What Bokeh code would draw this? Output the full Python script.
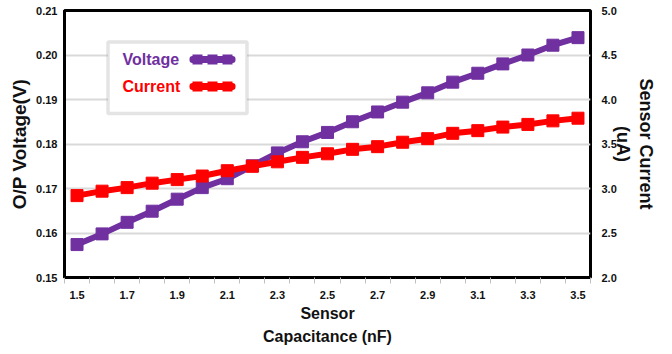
from bokeh.plotting import figure
from bokeh.models import (Range1d, LinearAxis, FixedTicker, BoxAnnotation, Label,
                          PrintfTickFormatter)
from bokeh.embed import file_html
from bokeh.resources import INLINE

capacitance = [1.5, 1.6, 1.7, 1.8, 1.9, 2.0, 2.1, 2.2, 2.3, 2.4, 2.5,
               2.6, 2.7, 2.8, 2.9, 3.0, 3.1, 3.2, 3.3, 3.4, 3.5]
voltage = [0.1574, 0.1598, 0.1624, 0.1649, 0.1676, 0.1702, 0.1722, 0.1751,
           0.1780, 0.1805, 0.1826, 0.1850, 0.1872, 0.1894, 0.1915, 0.1939,
           0.1959, 0.1980, 0.2000, 0.2022, 0.2039]
current = [2.92, 2.97, 3.01, 3.06, 3.10, 3.14, 3.20, 3.25, 3.30, 3.35, 3.39,
           3.44, 3.47, 3.52, 3.56, 3.62, 3.65, 3.69, 3.72, 3.76, 3.79]
x_label_ticks = [1.5, 1.7, 1.9, 2.1, 2.3, 2.5, 2.7, 2.9, 3.1, 3.3, 3.5]
x_bound_ticks = [1.45 + 0.1 * i for i in range(22)]
v_ticks = [0.15, 0.16, 0.17, 0.18, 0.19, 0.20, 0.21]
i_ticks = [2.0, 2.5, 3.0, 3.5, 4.0, 4.5, 5.0]
series_names = ["Voltage", "Current"]

PURPLE = "#7030A0"
RED = "#FF0000"
FONT = "Liberation Sans"
TXT = "#111111"

p = figure(frame_width=526, frame_height=267, output_backend="svg", toolbar_location=None,
           x_range=Range1d(1.45, 3.55), y_range=Range1d(0.15, 0.21),
           min_border_left=64, min_border_right=10, min_border_top=10, min_border_bottom=10)
p.extra_y_ranges = {"cur": Range1d(2.0, 5.0)}

p.outline_line_color = "black"
p.outline_line_width = 3
p.xgrid.grid_line_color = None
p.ygrid.grid_line_color = "#D9D9D9"
p.ygrid.grid_line_width = 2
p.ygrid.ticker = FixedTicker(ticks=v_ticks)

# x axis
xa = p.xaxis[0]
xa.ticker = FixedTicker(ticks=x_label_ticks, minor_ticks=x_bound_ticks)
xa.formatter = PrintfTickFormatter(format="%.1f")
xa.major_tick_line_color = None
xa.major_tick_out = 0
xa.major_tick_in = 0
xa.minor_tick_line_color = "#BFBFBF"
xa.minor_tick_out = 6
xa.minor_tick_in = 0
xa.axis_line_color = "black"
xa.axis_line_width = 3
xa.major_label_text_font = FONT
xa.major_label_text_font_style = "bold"
xa.major_label_text_font_size = "11px"
xa.major_label_text_color = TXT
xa.major_label_standoff = 7
xa.axis_label = "Sensor\nCapacitance (nF)"
xa.axis_label_text_font = FONT
xa.axis_label_text_font_style = "bold"
xa.axis_label_text_font_size = "16px"
xa.axis_label_text_color = TXT
xa.axis_label_text_line_height = 1.4
xa.axis_label_standoff = 3

# left axis
ya = p.yaxis[0]
ya.ticker = FixedTicker(ticks=v_ticks)
ya.formatter = PrintfTickFormatter(format="%.2f")
ya.major_tick_line_color = None
ya.major_tick_out = 0
ya.major_tick_in = 0
ya.minor_tick_line_color = None
ya.axis_line_color = "black"
ya.axis_line_width = 3
ya.major_label_text_font = FONT
ya.major_label_text_font_style = "bold"
ya.major_label_text_font_size = "11px"
ya.major_label_text_color = TXT
ya.major_label_standoff = 7
ya.axis_label = "O/P Voltage(V)"
ya.axis_label_text_font = FONT
ya.axis_label_text_font_style = "bold"
ya.axis_label_text_font_size = "19px"
ya.axis_label_text_color = TXT
ya.axis_label_standoff = 3

# right axis
ra = LinearAxis(y_range_name="cur", ticker=FixedTicker(ticks=i_ticks),
                formatter=PrintfTickFormatter(format="%.1f"))
ra.major_tick_line_color = None
ra.major_tick_out = 0
ra.major_tick_in = 0
ra.minor_tick_line_color = None
ra.axis_line_color = None
ra.major_label_text_font = FONT
ra.major_label_text_font_style = "bold"
ra.major_label_text_font_size = "11px"
ra.major_label_text_color = TXT
ra.major_label_standoff = 11
ra.axis_label = "Sensor Current\n(uA)"
ra.axis_label_text_font = FONT
ra.axis_label_text_font_style = "bold"
ra.axis_label_text_font_size = "18px"
ra.axis_label_text_color = TXT
ra.axis_label_text_line_height = 1.17
ra.axis_label_standoff = -7
p.add_layout(ra, "right")

# series
p.line(capacitance, voltage, line_color=PURPLE, line_width=6)
p.scatter(capacitance, voltage, marker="square", size=12, fill_color=PURPLE, line_color=PURPLE)
p.line(capacitance, current, y_range_name="cur", line_color=RED, line_width=6)
p.scatter(capacitance, current, y_range_name="cur", marker="square", size=12,
          fill_color=RED, line_color=RED)

# legend (custom: label left of glyph), positions in frame screen units (y up)
def sbox(l, r, b, t, **kw):
    return BoxAnnotation(left=l, right=r, bottom=b, top=t,
                         left_units="screen", right_units="screen",
                         top_units="screen", bottom_units="screen", **kw)

p.add_layout(sbox(43.5, 182.5, 164, 235.5, fill_color="white", fill_alpha=1.0,
                  line_color="#A6A6A6", line_width=3.5))
for name, color, yc in zip(series_names, [PURPLE, RED], [218, 191]):
    p.add_layout(Label(x=58, y=yc, x_units="screen", y_units="screen", text=name,
                       text_baseline="middle", text_align="left", text_color=color,
                       text_font=FONT, text_font_style="bold", text_font_size="16px"))
    p.add_layout(sbox(125, 171, yc - 3.5, yc + 3.5, fill_color=color, fill_alpha=1.0,
                      line_color=None, border_radius=3))
    for xc in (133, 148, 163):
        p.add_layout(sbox(xc - 5, xc + 5, yc - 5, yc + 5, fill_color=color,
                          fill_alpha=1.0, line_color=None))

open("out.html", "w").write(file_html(p, INLINE))
